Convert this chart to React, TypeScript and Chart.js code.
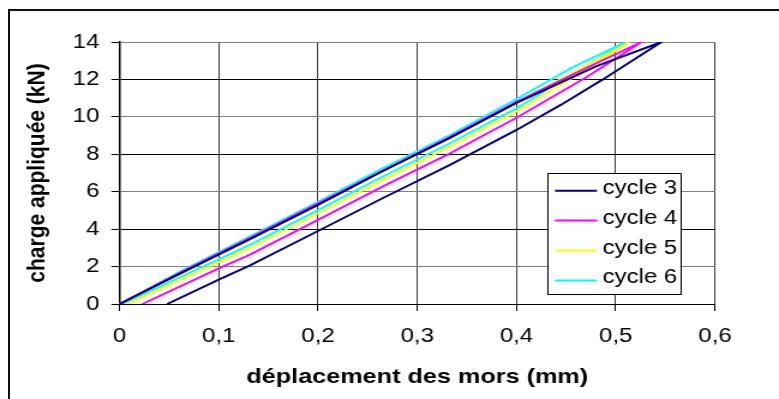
import React, { useEffect, useRef } from 'react';
import { Chart, registerables } from 'chart.js';

Chart.register(...registerables);

// ---------- data ----------
const cycleLabels = ['cycle 3', 'cycle 4', 'cycle 5', 'cycle 6'];
const cycleColors = ['#000080', '#FF00FF', '#FFFF00', '#00FFFF'];

// each loop: loading branch up to the peak, then unloading branch back down
const cycle3Disp = [0.048, 0.1, 0.131, 0.2, 0.265, 0.333, 0.4, 0.445, 0.487, 0.546, 0.48, 0.4, 0.333, 0.265, 0.2, 0.131, 0.06, 0];
const cycle3Load = [0, 1.3, 2.05, 3.9, 5.65, 7.43, 9.3, 10.65, 12.0, 14.0, 12.7, 10.75, 8.88, 7.1, 5.3, 3.45, 1.6, 0];

const cycle4Disp = [0.023, 0.1, 0.131, 0.2, 0.265, 0.333, 0.4, 0.47, 0.526, 0.47, 0.4, 0.333, 0.265, 0.2, 0.131, 0.06, 0];
const cycle4Load = [0, 1.9, 2.62, 4.5, 6.27, 8.05, 9.95, 12.1, 14.0, 12.6, 10.8, 8.93, 7.12, 5.38, 3.52, 1.65, 0];

const cycle5Disp = [0.008, 0.07, 0.131, 0.2, 0.265, 0.333, 0.4, 0.46, 0.514, 0.46, 0.4, 0.333, 0.265, 0.2, 0.131, 0.06, 0];
const cycle5Load = [0, 1.5, 2.98, 4.85, 6.62, 8.41, 10.3, 12.2, 14.0, 12.45, 10.78, 8.88, 7.1, 5.32, 3.46, 1.6, 0];

const cycle6Disp = [0.003, 0.07, 0.131, 0.2, 0.265, 0.333, 0.4, 0.455, 0.51, 0.455, 0.4, 0.333, 0.265, 0.2, 0.131, 0.06, 0];
const cycle6Load = [0, 1.65, 3.15, 5.02, 6.8, 8.59, 10.45, 12.25, 14.0, 12.6, 10.95, 9.03, 7.25, 5.46, 3.6, 1.7, 0];

const cycleDisp = [cycle3Disp, cycle4Disp, cycle5Disp, cycle6Disp];
const cycleLoad = [cycle3Load, cycle4Load, cycle5Load, cycle6Load];

const xTickValues = [0, 0.1, 0.2, 0.3, 0.4, 0.5, 0.6];
const xTickLabels = ['0', '0,1', '0,2', '0,3', '0,4', '0,5', '0,6'];
const yTickValues = [0, 2, 4, 6, 8, 10, 12, 14];
const yTickLabels = ['0', '2', '4', '6', '8', '10', '12', '14'];

const xTitle = 'déplacement des mors (mm)';
const yTitle = 'charge appliquée (kN)';

// ---------- layout ----------
const W = 779;
const H = 399;
const CW = 649; // canvas drawn narrower and stretched horizontally like the reference
const SX = W / CW;
const FONT = '"Liberation Sans", Arial, sans-serif';

const AREA_LEFT = 119.5 / SX;
const AREA_RIGHT = 715 / SX;
const AREA_TOP = 42;
const AREA_BOTTOM = 304;

const legendPlugin = {
  id: 'boxLegend',
  afterDraw(chart: any) {
    const ctx = chart.ctx;
    const left = Math.round(547 / SX) + 0.5;
    const top = 173.5;
    const width = Math.round(681 / SX) - Math.round(547 / SX);
    const height = 121;
    ctx.save();
    ctx.fillStyle = '#ffffff';
    ctx.fillRect(left, top, width, height);
    ctx.strokeStyle = '#000000';
    ctx.lineWidth = 1;
    ctx.strokeRect(left, top, width, height);
    chart.data.datasets.forEach((ds: any, i: number) => {
      const y = 190.7 + i * 29.9;
      ctx.strokeStyle = ds.borderColor;
      ctx.lineWidth = 2;
      ctx.beginPath();
      ctx.moveTo(555 / SX, y);
      ctx.lineTo(597 / SX, y);
      ctx.stroke();
      ctx.fillStyle = '#000';
      ctx.font = `20px ${FONT}`;
      ctx.textAlign = 'left';
      ctx.textBaseline = 'middle';
      ctx.fillText(ds.label, 602.5 / SX, y - 2.5);
    });
    ctx.restore();
  },
};

export default function App() {
  const ref = useRef<HTMLCanvasElement | null>(null);

  useEffect(() => {
    const canvas = ref.current;
    if (!canvas) return;
    const chart = new Chart(canvas, {
      type: 'scatter',
      data: {
        datasets: cycleLabels.map((label, i) => ({
          label,
          data: cycleDisp[i].map((x, j) => ({ x, y: cycleLoad[i][j] })),
          showLine: true,
          borderColor: cycleColors[i],
          backgroundColor: cycleColors[i],
          borderWidth: 2,
          pointRadius: 0,
          pointHoverRadius: 0,
          tension: 0,
          fill: false,
        })),
      },
      options: {
        responsive: false,
        maintainAspectRatio: false,
        animation: false,
        devicePixelRatio: 1,
        layout: { padding: { left: 0, top: AREA_TOP, right: CW - AREA_RIGHT, bottom: 0 } },
        plugins: { legend: { display: false }, tooltip: { enabled: false } },
        scales: {
          x: {
            type: 'linear',
            min: 0,
            max: 0.6,
            afterBuildTicks: (s: any) => {
              s.ticks = xTickValues.map((v) => ({ value: v }));
            },
            afterFit: (s: any) => {
              s.height = H - AREA_BOTTOM;
            },
            ticks: {
              callback: (_v: any, i: number) => xTickLabels[i],
              color: '#000',
              font: { family: FONT, size: 20 },
              padding: 13,
              maxRotation: 0,
            },
            grid: {
              color: (c: any) => (c.tick && c.tick.value === 0 ? '#000' : '#3a3a3a'),
              lineWidth: 1,
              tickLength: 7,
              tickColor: '#000',
            },
            border: { color: '#000', width: 1 },
            title: {
              display: true,
              text: xTitle,
              color: '#000',
              font: { family: FONT, size: 21, weight: 'bold' },
              padding: { top: 0, bottom: 9.5 },
            },
          },
          y: {
            type: 'linear',
            min: 0,
            max: 14,
            afterBuildTicks: (s: any) => {
              s.ticks = yTickValues.map((v) => ({ value: v }));
            },
            afterFit: (s: any) => {
              s.width = AREA_LEFT;
            },
            ticks: {
              callback: (_v: any, i: number) => yTickLabels[i],
              color: '#000',
              font: { family: FONT, size: 20 },
              padding: 10,
            },
            grid: {
              color: (c: any) => {
                const v = c.tick ? c.tick.value : 0;
                return v % 4 === 2 ? '#808080' : '#000000';
              },
              lineWidth: 1,
              tickLength: 6.7,
              tickColor: '#000',
            },
            border: { color: '#000', width: 1.5 },
            title: {
              display: true,
              text: yTitle,
              color: '#000',
              font: { family: FONT, size: 21, weight: 'bold' },
              padding: { top: 19, bottom: 0 },
            },
          },
        },
      } as any,
      plugins: [legendPlugin],
    });
    return () => chart.destroy();
  }, []);

  return (
    <div
      style={{
        position: 'fixed',
        left: 0,
        top: 0,
        width: W,
        height: H,
        overflow: 'hidden',
        background: '#fff',
      }}
    >
      <div
        style={{
          position: 'absolute',
          left: 8,
          top: 9,
          width: 900,
          height: 500,
          borderLeft: '2px solid #111',
          borderTop: '2px solid #111',
        }}
      />
      <canvas
        ref={ref}
        width={CW}
        height={H}
        style={{ position: 'absolute', left: 0, top: 0, width: W + 'px', height: H + 'px' }}
      />
    </div>
  );
}
